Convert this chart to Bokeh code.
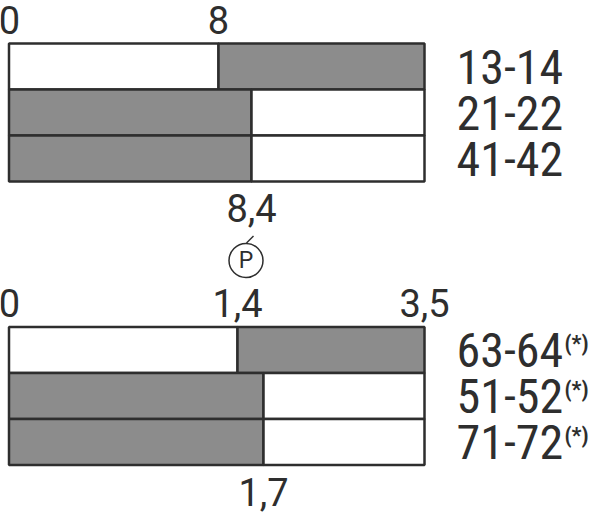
from bokeh.plotting import figure
from bokeh.models import ColumnDataSource, Range1d
from bokeh.core.properties import value
from bokeh.embed import file_html
from bokeh.resources import INLINE

# ---------------- data ----------------
top_contacts = ["13-14", "21-22", "41-42"]
top_switch = [8.0, 8.4, 8.4]              # switching point of each contact
top_closed_at_start = [False, True, True] # gray = closed
top_ticks_above = [0.0, 8.0]
top_ticks_below = [8.4]

bot_contacts = ["63-64", "51-52", "71-72"]
bot_switch = [1.4, 1.7, 1.7]
bot_closed_at_start = [False, True, True]
bot_ticks_above = [0.0, 1.4, 3.5]
bot_ticks_below = [1.7]
bot_note = "(*)"
marker_letter = "P"

# ---------------- layout (schematic, not to scale) ----------------
W, H = 590, 514
OFF = 0                      # data units equal screen pixels
BOX_L, BOX_R = 8.5, 424
TOP_POS = {0.0: BOX_L, 8.0: 218, 8.4: 251, "end": BOX_R}
BOT_POS = {0.0: BOX_L, 1.4: 237, 1.7: 263, 3.5: BOX_R}
TOP_Y0, BOT_Y0, ROW_H = 43, 326.5, 46
GRAY, WHITE, INK = "#8c8c8c", "#ffffff", "#2e2e2e"
TICK_FONT = "Roboto"
LABEL_FONT = "Noto Sans Condensed, Roboto Condensed, DejaVu Sans Condensed"
TICK_SIZE, LABEL_SIZE, NOTE_SIZE, LETTER_SIZE = 38, 48, 22, 23
BASE_FIX = 0.36              # empirical baseline correction (fraction of font size)


def fmt(v):
    return f"{v:g}".replace(".", ",")


def base(y, size):
    return y - BASE_FIX * size


p = figure(width=W, height=H, output_backend="svg", toolbar_location=None,
           x_range=Range1d(OFF, OFF + W), y_range=Range1d(OFF + H, OFF),
           min_border=0, outline_line_color=None)
p.xaxis.visible = False
p.yaxis.visible = False
p.grid.visible = False
p.background_fill_color = "white"
p.border_fill_color = "white"


def block(contacts, switch, closed, pos, y0, ticks_above, ticks_below, note=None):
    end = "end" if "end" in pos else max(pos)
    left, right, top, bottom, fill = [], [], [], [], []
    for i, (sw, c) in enumerate(zip(switch, closed)):
        t = y0 + i * ROW_H
        b = t + ROW_H
        left += [pos[0.0], pos[sw]]
        right += [pos[sw], pos[end]]
        top += [t, t]
        bottom += [b, b]
        fill += [GRAY if c else WHITE, WHITE if c else GRAY]
    src = ColumnDataSource(dict(left=left, right=right, top=top, bottom=bottom, fill=fill))
    p.quad(left="left", right="right", top="top", bottom="bottom", source=src,
           fill_color="fill", line_color=INK, line_width=2.5)

    y_end = y0 + len(contacts) * ROW_H
    # tick labels ("0" kept inside the page)
    ta = ColumnDataSource(dict(x=[max(pos[v], 9) for v in ticks_above],
                               y=[base(y0 - 10, TICK_SIZE)] * len(ticks_above),
                               t=[fmt(v) for v in ticks_above]))
    p.text(x="x", y="y", text="t", source=ta, text_align="center",
           text_baseline="alphabetic", text_font=value(TICK_FONT),
           text_font_size=f"{TICK_SIZE}px", text_color=INK)
    tb = ColumnDataSource(dict(x=[pos[v] for v in ticks_below],
                               y=[base(y_end + 40.5, TICK_SIZE)] * len(ticks_below),
                               t=[fmt(v) for v in ticks_below]))
    p.text(x="x", y="y", text="t", source=tb, text_align="center",
           text_baseline="alphabetic", text_font=value(TICK_FONT),
           text_font_size=f"{TICK_SIZE}px", text_color=INK)
    # contact labels
    ys = [y0 + (i + 1) * ROW_H - 5.5 for i in range(len(contacts))]
    lab = ColumnDataSource(dict(x=[456] * len(contacts),
                                y=[base(y, LABEL_SIZE) for y in ys], t=contacts))
    p.text(x="x", y="y", text="t", source=lab, text_align="left",
           text_baseline="alphabetic", text_font=value(LABEL_FONT),
           text_font_size=f"{LABEL_SIZE}px", text_color=INK)
    if note:
        ns = ColumnDataSource(dict(x=[564] * len(contacts),
                                   y=[base(y - 16, NOTE_SIZE) for y in ys],
                                   t=[note] * len(contacts)))
        p.text(x="x", y="y", text="t", source=ns, text_align="left",
               text_baseline="alphabetic", text_font=value(LABEL_FONT),
               text_font_size=f"{NOTE_SIZE}px", text_font_style="bold", text_color=INK)


block(top_contacts, top_switch, top_closed_at_start, TOP_POS, TOP_Y0,
      top_ticks_above, top_ticks_below)
block(bot_contacts, bot_switch, bot_closed_at_start, BOT_POS, BOT_Y0,
      bot_ticks_above, bot_ticks_below, note=bot_note)

# circled marker between the blocks
cx, cy, r = TOP_POS[8.4] - 5.5, 260, 17
p.circle(x=[cx], y=[cy], radius=r, fill_color="white", line_color=INK, line_width=1.5)
p.text(x=[cx], y=[base(cy + 8, LETTER_SIZE)], text=[marker_letter], text_align="center",
       text_baseline="alphabetic", text_font=value(TICK_FONT),
       text_font_size=f"{LETTER_SIZE}px", text_color=INK)
p.segment(x0=[cx + 0.5], y0=[cy - r - 0.5], x1=[cx + 7.5], y1=[cy - r - 7.5],
          line_color=INK, line_width=1.5)

open("out.html", "w").write(file_html(p, INLINE))
